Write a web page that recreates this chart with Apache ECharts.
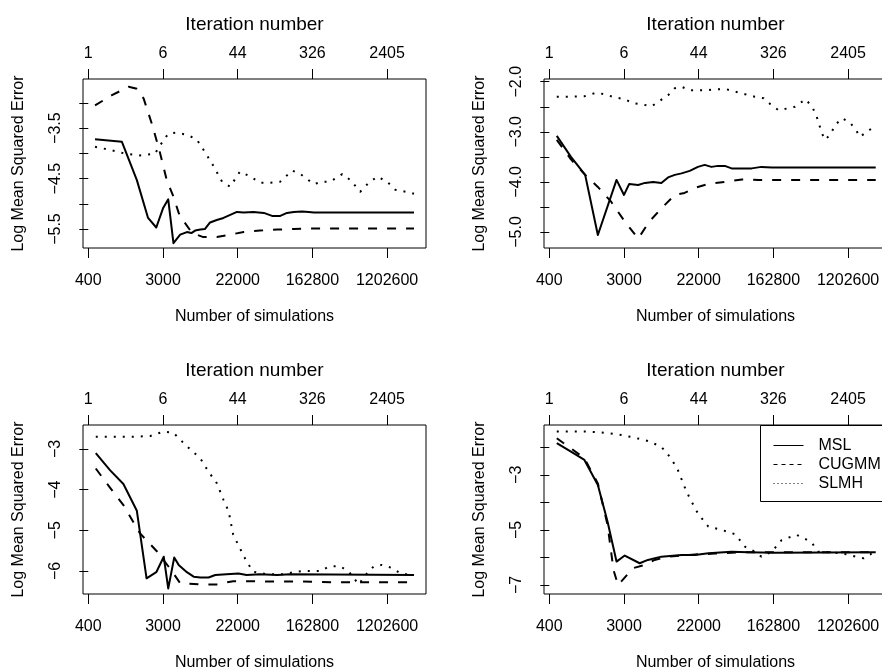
<!DOCTYPE html>
<html>
<head>
<meta charset="utf-8">
<script src="https://cdn.jsdelivr.net/npm/echarts@6/dist/echarts.min.js"></script>
<style>
  html, body { margin: 0; padding: 0; background: #fff; }
  #chart { width: 882px; height: 670px; }
</style>
</head>
<body>
<div id="chart"></div>
<script>
// Shared log-spaced x positions (tick steps) and their labels
const tickSteps = [0, 1, 2, 3, 4];
const simLabels = ['400', '3000', '22000', '162800', '1202600'];
const iterLabels = ['1', '6', '44', '326', '2405'];
const seriesNames = ['MSL', 'CUGMM', 'SLMH'];

// Panel 1 (top left): [x step, log MSE]
const msl1 = [[0.09,-3.72],[0.45,-3.77],[0.65,-4.53],[0.80,-5.28],[0.91,-5.47],[1.00,-5.09],[1.07,-4.91],[1.14,-5.78],[1.23,-5.61],[1.32,-5.56],[1.38,-5.58],[1.43,-5.53],[1.50,-5.51],[1.56,-5.50],[1.63,-5.37],[1.72,-5.32],[1.81,-5.28],[1.90,-5.22],[1.99,-5.16],[2.08,-5.17],[2.21,-5.16],[2.35,-5.18],[2.46,-5.24],[2.57,-5.24],[2.66,-5.18],[2.75,-5.16],[2.86,-5.15],[2.95,-5.16],[3.02,-5.17],[4.36,-5.17]];
const cugmm1 = [[0.09,-3.05],[0.31,-2.85],[0.54,-2.68],[0.65,-2.72],[0.74,-2.91],[0.85,-3.41],[0.95,-3.93],[1.05,-4.53],[1.14,-4.86],[1.21,-5.18],[1.28,-5.35],[1.39,-5.58],[1.54,-5.66],[1.72,-5.66],[1.90,-5.61],[2.08,-5.56],[2.30,-5.53],[2.53,-5.51],[2.75,-5.50],[2.97,-5.49],[4.36,-5.49]];
const slmh1 = [[0.09,-3.87],[0.29,-3.93],[0.51,-4.01],[0.69,-4.04],[0.89,-4.01],[0.98,-3.80],[1.07,-3.61],[1.18,-3.59],[1.32,-3.63],[1.45,-3.72],[1.56,-3.97],[1.68,-4.26],[1.79,-4.56],[1.90,-4.66],[2.03,-4.36],[2.17,-4.46],[2.30,-4.58],[2.44,-4.58],[2.57,-4.56],[2.73,-4.34],[2.84,-4.41],[3.02,-4.61],[3.13,-4.56],[3.24,-4.56],[3.40,-4.41],[3.51,-4.53],[3.64,-4.76],[3.75,-4.59],[3.87,-4.46],[4.00,-4.56],[4.11,-4.72],[4.25,-4.76],[4.36,-4.80]];

// Panel 2 (top right)
const msl2 = [[0.10,-3.08],[0.29,-3.50],[0.48,-3.86],[0.65,-5.06],[0.90,-3.96],[1.00,-4.26],[1.07,-4.04],[1.19,-4.06],[1.28,-4.02],[1.39,-4.00],[1.50,-4.02],[1.59,-3.91],[1.68,-3.86],[1.77,-3.83],[1.88,-3.78],[1.99,-3.70],[2.08,-3.66],[2.17,-3.70],[2.26,-3.68],[2.35,-3.68],[2.44,-3.73],[2.58,-3.73],[2.71,-3.73],[2.84,-3.70],[2.98,-3.71],[4.37,-3.71]];
const cugmm2 = [[0.10,-3.16],[0.29,-3.55],[0.48,-3.86],[0.65,-4.10],[0.83,-4.40],[1.01,-4.79],[1.19,-5.13],[1.34,-4.79],[1.52,-4.50],[1.68,-4.26],[1.81,-4.22],[1.97,-4.11],[2.13,-4.04],[2.35,-4.00],[2.58,-3.95],[2.80,-3.96],[4.37,-3.96]];
const slmh2 = [[0.10,-2.30],[0.25,-2.30],[0.47,-2.29],[0.63,-2.22],[0.74,-2.25],[0.87,-2.31],[1.01,-2.35],[1.12,-2.43],[1.23,-2.45],[1.37,-2.49],[1.48,-2.38],[1.59,-2.27],[1.68,-2.13],[1.77,-2.10],[1.88,-2.17],[2.08,-2.17],[2.26,-2.15],[2.37,-2.15],[2.49,-2.20],[2.62,-2.25],[2.75,-2.30],[2.87,-2.33],[2.96,-2.45],[3.07,-2.57],[3.20,-2.53],[3.29,-2.50],[3.43,-2.35],[3.52,-2.50],[3.58,-2.70],[3.65,-3.03],[3.69,-3.16],[3.76,-3.06],[3.83,-2.86],[3.92,-2.73],[4.03,-2.82],[4.12,-3.00],[4.16,-3.10],[4.25,-3.00],[4.32,-2.93]];

// Panel 3 (bottom left)
const msl3 = [[0.10,-3.10],[0.29,-3.52],[0.47,-3.86],[0.65,-4.52],[0.78,-6.18],[0.91,-6.03],[1.01,-5.65],[1.07,-6.43],[1.15,-5.67],[1.21,-5.85],[1.32,-6.03],[1.41,-6.14],[1.50,-6.16],[1.61,-6.16],[1.70,-6.10],[1.85,-6.08],[2.01,-6.06],[2.12,-6.10],[2.30,-6.08],[2.53,-6.10],[2.70,-6.08],[4.36,-6.10]];
const cugmm3 = [[0.10,-3.48],[0.29,-3.95],[0.47,-4.38],[0.69,-5.07],[0.92,-5.52],[1.09,-5.93],[1.23,-6.30],[1.50,-6.33],[1.72,-6.33],[1.94,-6.25],[2.21,-6.25],[2.48,-6.26],[2.84,-6.26],[3.28,-6.28],[4.36,-6.28]];
const slmh3 = [[0.10,-2.70],[0.29,-2.70],[0.60,-2.70],[0.83,-2.68],[1.01,-2.57],[1.14,-2.60],[1.30,-2.90],[1.50,-3.23],[1.61,-3.56],[1.72,-3.84],[1.81,-4.25],[1.88,-4.54],[1.94,-5.11],[2.03,-5.44],[2.12,-5.77],[2.21,-6.02],[2.39,-6.08],[2.61,-6.08],[2.75,-6.03],[2.88,-6.00],[3.11,-6.00],[3.22,-5.89],[3.37,-5.88],[3.49,-6.02],[3.62,-6.33],[3.73,-6.06],[3.82,-5.89],[3.93,-5.85],[4.07,-5.93],[4.18,-6.06],[4.36,-6.11]];

// Panel 4 (bottom right)
const msl4 = [[0.10,-1.85],[0.29,-2.16],[0.47,-2.46],[0.65,-3.37],[0.78,-4.70],[0.90,-6.15],[1.01,-5.93],[1.21,-6.21],[1.32,-6.09],[1.50,-5.97],[1.77,-5.91],[1.95,-5.91],[2.13,-5.85],[2.44,-5.79],[2.66,-5.81],[3.02,-5.83],[4.37,-5.81]];
const cugmm4 = [[0.10,-1.67],[0.29,-2.04],[0.47,-2.40],[0.65,-3.31],[0.78,-4.82],[0.86,-6.46],[0.92,-7.00],[1.00,-6.76],[1.12,-6.39],[1.28,-6.27],[1.41,-6.09],[1.59,-5.97],[1.95,-5.89],[2.22,-5.86],[2.58,-5.81],[4.37,-5.81]];
const slmh4 = [[0.10,-1.43],[0.34,-1.43],[0.52,-1.43],[0.69,-1.46],[0.92,-1.53],[1.14,-1.65],[1.32,-1.77],[1.50,-1.98],[1.63,-2.40],[1.72,-2.82],[1.81,-3.43],[1.88,-3.85],[1.99,-4.40],[2.13,-4.88],[2.31,-5.00],[2.49,-5.16],[2.62,-5.61],[2.75,-5.79],[2.84,-5.97],[2.98,-5.79],[3.11,-5.37],[3.31,-5.18],[3.43,-5.33],[3.52,-5.49],[3.60,-5.79],[3.74,-5.81],[3.92,-5.85],[4.10,-5.97],[4.21,-6.03],[4.32,-5.85]];

// y-axis ticks and labelled ticks for each panel
const yTicks1 = [-3.0, -3.5, -4.0, -4.5, -5.0, -5.5];
const yLabels1 = [-3.5, -4.5, -5.5];
const yTicks2 = [-2.0, -2.5, -3.0, -3.5, -4.0, -4.5, -5.0];
const yLabels2 = [-2.0, -3.0, -4.0, -5.0];
const yTicks3 = [-3, -4, -5, -6];
const yLabels3 = [-3, -4, -5, -6];
const yTicks4 = [-2, -3, -4, -5, -6, -7];
const yLabels4 = [-3, -5, -7];

const FONT = '"Liberation Sans", Arial, Helvetica, sans-serif';
const X_MIN = -0.071, X_MAX = 4.521;

const panels = [
  { box: { left: 83,  top: 79,  width: 343, height: 169 }, yMin: -5.876, yMax: -2.525, ticks: yTicks1, labels: yLabels1, dec: 1, lines: [msl1, cugmm1, slmh1] },
  { box: { left: 544, top: 79,  width: 343, height: 169 }, yMin: -5.319, yMax: -1.946, ticks: yTicks2, labels: yLabels2, dec: 1, lines: [msl2, cugmm2, slmh2] },
  { box: { left: 83,  top: 425, width: 343, height: 169 }, yMin: -6.566, yMax: -2.41,  ticks: yTicks3, labels: yLabels3, dec: 0, lines: [msl3, cugmm3, slmh3] },
  { box: { left: 544, top: 425, width: 343, height: 169 }, yMin: -7.327, yMax: -1.19,  ticks: yTicks4, labels: yLabels4, dec: 0, lines: [msl4, cugmm4, slmh4] }
];

const lineTypes = { MSL: 'solid', CUGMM: [9, 10], SLMH: [2, 7] };
const legendTypes = { MSL: 'solid', CUGMM: [4, 4], SLMH: [1, 3] };
const txt = { fontFamily: FONT, fontSize: 16, color: '#000' };
const minus = s => s.replace('-', '\u2212');

const grid = [], xAxis = [], yAxis = [], series = [];
panels.forEach((p, i) => {
  grid.push(Object.assign({
    show: true, borderColor: '#000', borderWidth: 1, backgroundColor: 'transparent',
    containLabel: false, outerBoundsMode: 'none'
  }, p.box));
  // bottom axis: number of simulations
  xAxis.push({
    type: 'value', gridIndex: i, position: 'bottom', min: X_MIN, max: X_MAX,
    axisLine: { show: false }, splitLine: { show: false },
    axisTick: { show: true, customValues: tickSteps, length: 10, lineStyle: { color: '#000', width: 1 } },
    axisLabel: Object.assign({ customValues: tickSteps, margin: 25, formatter: v => simLabels[Math.round(v)] }, txt),
    name: 'Number of simulations', nameLocation: 'middle', nameGap: 61,
    nameTextStyle: Object.assign({ verticalAlign: 'top' }, txt)
  });
  // top axis: iteration number
  xAxis.push({
    type: 'value', gridIndex: i, position: 'top', min: X_MIN, max: X_MAX,
    axisLine: { show: false }, splitLine: { show: false },
    axisTick: { show: true, customValues: tickSteps, length: 10, lineStyle: { color: '#000', width: 1 } },
    axisLabel: Object.assign({ customValues: tickSteps, margin: 17, formatter: v => iterLabels[Math.round(v)] }, txt),
    name: 'Iteration number', nameLocation: 'middle', nameGap: 45,
    nameTextStyle: Object.assign({}, txt, { fontSize: 19 })
  });
  yAxis.push({
    type: 'value', gridIndex: i, position: 'left', min: p.yMin, max: p.yMax,
    axisLine: { show: false }, splitLine: { show: false },
    axisTick: { show: true, customValues: p.ticks, length: 9, lineStyle: { color: '#000', width: 1 } },
    axisLabel: Object.assign({ customValues: p.labels, rotate: 90, margin: 19, formatter: v => minus(v.toFixed(p.dec)) }, txt),
    name: 'Log Mean Squared Error', nameLocation: 'middle', nameGap: 56,
    nameTextStyle: txt
  });
  p.lines.forEach((d, k) => {
    const nm = seriesNames[k];
    series.push({
      name: nm, type: 'line', xAxisIndex: 2 * i, yAxisIndex: i, data: d,
      symbol: 'none', silent: true, animation: false,
      itemStyle: { color: '#000' },
      lineStyle: { color: '#000', width: 2, type: lineTypes[nm], cap: 'butt', join: 'round' }
    });
  });
});

const chart = echarts.init(document.getElementById('chart'), null, { renderer: 'canvas' });
chart.setOption({
  backgroundColor: '#fff',
  animation: false,
  grid, xAxis, yAxis, series,
  legend: {
    orient: 'vertical', left: 760, top: 425,
    padding: [11, 0, 0, 13], itemGap: 0, itemWidth: 30, itemHeight: 19,
    selectedMode: false,
    itemStyle: { opacity: 0, borderWidth: 0 },
    textStyle: Object.assign({ padding: [0, 0, 0, 10], lineHeight: 19 }, txt),
    data: seriesNames.map(nm => ({ name: nm, lineStyle: { width: 1, type: legendTypes[nm], color: '#000', opacity: 1 } }))
  },
  // frame around the legend, running off the right edge
  graphic: [{
    type: 'rect', silent: true, z: 0,
    shape: { x: 760.5, y: 425.5, width: 140, height: 76 },
    style: { fill: '#fff', stroke: '#000', lineWidth: 1 }
  }]
});
</script>
</body>
</html>
